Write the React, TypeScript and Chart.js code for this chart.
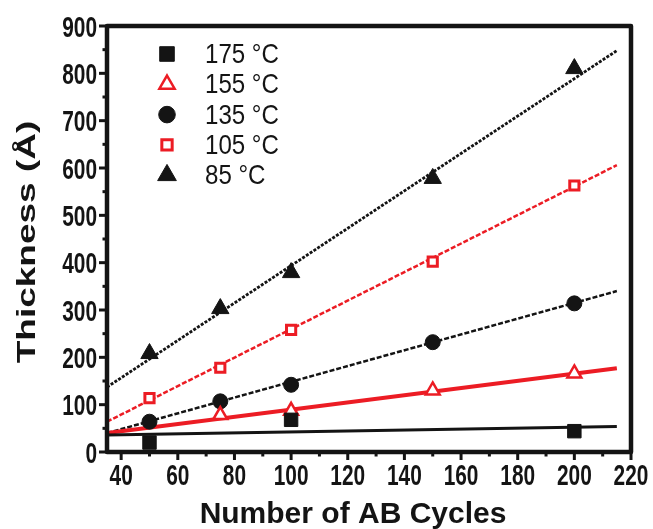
import React, { useEffect, useRef } from 'react';
import { Chart, registerables } from 'chart.js';
import { drawPoint } from 'chart.js/helpers';

Chart.register(...registerables);

// ---- data ----
const cycles = [50, 75, 100, 150, 200];
const cycles155 = [75, 100, 150, 200];
const cycles175 = [50, 100, 200];
const thick175 = [20, 68, 44];
const thick155 = [78, 87, 130, 166];
const thick135 = [64, 107, 142, 232, 314];
const thick105 = [114, 178, 258, 402, 563];
const thick85 = [208, 303, 379, 578, 810];

const fitX = [35, 215];
const fit175 = [36, 54];
const fit155 = [40, 177];
const fit135 = [40, 340];
const fit105 = [64, 606];
const fit85 = [137, 848];

const seriesLabels = ['175 °C', '155 °C', '135 °C', '105 °C', '85 °C'];
const xTicks = [40, 60, 80, 100, 120, 140, 160, 180, 200, 220];
const xMinorTicks = [50, 70, 90, 110, 130, 150, 170, 190, 210];
const yTicks = [0, 100, 200, 300, 400, 500, 600, 700, 800, 900];
const yMinorTicks = [50, 150, 250, 350, 450, 550, 650, 750, 850];

const xTitle = 'Number of AB Cycles';
const yTitle = 'Thickness (Å)';

const RED = '#ec1c24';
const BLACK = '#141414';
const SANS = "'Liberation Sans', Arial, sans-serif";

const pts = (xs: number[], ys: number[]) => xs.map((x, i) => ({ x, y: ys[i] }));

// condensed text helper (the original uses a narrow face)
function condensedText(ctx: any, text: string, x: number, y: number, sx: number, align: string) {
  ctx.save();
  ctx.translate(x, y);
  ctx.scale(sx, 1);
  ctx.textAlign = align;
  ctx.fillText(text, 0, 0);
  ctx.restore();
}

const framePlugin = {
  id: 'frameTicks',
  afterDatasetsDraw(chart: any) {
    const { ctx, chartArea } = chart;
    const { left, right, top, bottom } = chartArea;
    const xs = chart.scales.x;
    const ys = chart.scales.y;
    ctx.save();
    ctx.strokeStyle = BLACK;
    ctx.lineCap = 'butt';
    ctx.lineWidth = 3;
    xTicks.forEach((v) => {
      const px = xs.getPixelForValue(v);
      ctx.beginPath(); ctx.moveTo(px, bottom); ctx.lineTo(px, bottom + 8); ctx.stroke();
    });
    xMinorTicks.forEach((v) => {
      const px = xs.getPixelForValue(v);
      ctx.beginPath(); ctx.moveTo(px, bottom); ctx.lineTo(px, bottom + 4.5); ctx.stroke();
    });
    yTicks.forEach((v) => {
      const py = ys.getPixelForValue(v);
      ctx.beginPath(); ctx.moveTo(left, py); ctx.lineTo(left - 8, py); ctx.stroke();
    });
    yMinorTicks.forEach((v) => {
      const py = ys.getPixelForValue(v);
      ctx.beginPath(); ctx.moveTo(left, py); ctx.lineTo(left - 4.5, py); ctx.stroke();
    });
    ctx.lineWidth = 4.5;
    ctx.lineJoin = 'round';
    ctx.strokeRect(left, top, right - left, bottom - top);

    // tick labels from the scales' ticks, in a condensed bold face
    ctx.fillStyle = BLACK;
    ctx.font = `bold 29px ${SANS}`;
    ctx.textBaseline = 'alphabetic';
    xs.ticks.forEach((t: any) => {
      const px = xs.getPixelForValue(t.value);
      condensedText(ctx, String(t.value), px, bottom + 33, 0.72, 'center');
    });
    ys.ticks.forEach((t: any) => {
      const py = ys.getPixelForValue(t.value);
      condensedText(ctx, String(t.value), left - 10, py + 10.5, 0.72, 'right');
    });

    // x axis title
    ctx.font = `bold 30px ${SANS}`;
    ctx.textAlign = 'center';
    ctx.textBaseline = 'alphabetic';
    ctx.fillText(xTitle, (left + right) / 2 - 16, bottom + 71);

    // y axis title, condensed across its glyph height
    ctx.save();
    ctx.font = `bold 37px ${SANS}`;
    ctx.textAlign = 'center';
    ctx.textBaseline = 'middle';
    ctx.translate(28, (top + bottom) / 2 + 3);
    ctx.rotate(-Math.PI / 2);
    ctx.scale(1, 0.72);
    ctx.fillText(yTitle, 0, 0);
    ctx.restore();
    ctx.restore();
  },
};

const legendPlugin = {
  id: 'insetLegend',
  afterDraw(chart: any) {
    const { ctx, chartArea } = chart;
    const markers = chart.data.datasets.filter((d: any) => d.label);
    markers.forEach((ds: any, i: number) => {
      const y = chartArea.top + 28 + i * 30.3;
      ctx.save();
      ctx.fillStyle = ds.pointBackgroundColor;
      ctx.strokeStyle = ds.pointBorderColor;
      ctx.lineWidth = ds.pointBorderWidth;
      drawPoint(
        ctx,
        { pointStyle: ds.pointStyle, radius: ds.pointRadius + 0.8, rotation: 0, borderWidth: ds.pointBorderWidth } as any,
        chartArea.left + 60,
        y
      );
      ctx.fillStyle = BLACK;
      ctx.font = `28px ${SANS}`;
      ctx.textBaseline = 'alphabetic';
      condensedText(ctx, ds.label, chartArea.left + 98, y + 9, 0.86, 'left');
      ctx.restore();
    });
  },
};

export default function App() {
  const ref = useRef<HTMLCanvasElement | null>(null);

  useEffect(() => {
    document.body.style.margin = '0';
    const canvas = ref.current;
    if (!canvas) return;

    const fitLine = (ys: number[], color: string, width: number, dash: number[]) => ({
      label: '',
      data: pts(fitX, ys),
      showLine: true,
      borderColor: color,
      borderWidth: width,
      borderDash: dash,
      pointRadius: 0,
      pointHoverRadius: 0,
      fill: false,
      order: 10,
    });

    const marker = (
      label: string,
      xs: number[],
      ys: number[],
      style: string,
      radius: number,
      bg: string,
      border: string,
      bw: number
    ) => ({
      label,
      data: pts(xs, ys),
      showLine: false,
      pointStyle: style,
      pointRadius: radius,
      pointHoverRadius: radius,
      pointBackgroundColor: bg,
      pointBorderColor: border,
      pointBorderWidth: bw,
      backgroundColor: bg,
      borderColor: border,
      order: 1,
    });

    const chart = new Chart(canvas, {
      type: 'scatter',
      data: {
        datasets: [
          fitLine(fit175, BLACK, 3, []),
          fitLine(fit155, RED, 4, []),
          fitLine(fit135, BLACK, 2.5, [5, 2]),
          fitLine(fit105, RED, 2.5, [5, 2]),
          fitLine(fit85, BLACK, 2.8, [3, 1.5]),
          marker(seriesLabels[0], cycles175, thick175, 'rect', 9.5, BLACK, BLACK, 1),
          marker(seriesLabels[1], cycles155, thick155, 'triangle', 8, '#ffffff', RED, 2.5),
          marker(seriesLabels[2], cycles, thick135, 'circle', 7.5, BLACK, BLACK, 1),
          marker(seriesLabels[3], cycles, thick105, 'rect', 6.5, '#ffffff', RED, 3),
          marker(seriesLabels[4], cycles, thick85, 'triangle', 10, BLACK, BLACK, 1),
        ] as any,
      },
      options: {
        responsive: false,
        animation: false,
        devicePixelRatio: 1,
        layout: { padding: { top: 26, right: 22, left: 0, bottom: 0 } },
        plugins: {
          legend: { display: false },
          tooltip: { enabled: false },
        },
        scales: {
          x: {
            type: 'linear',
            min: 35,
            max: 220,
            afterBuildTicks: (scale: any) => {
              scale.ticks = xTicks.map((v) => ({ value: v, label: String(v) }));
            },
            afterFit: (scale: any) => {
              scale.height = 77;
            },
            grid: { display: false, drawTicks: false, tickLength: 0 },
            border: { display: false },
            ticks: { display: false },
            title: { display: false, text: xTitle },
          },
          y: {
            type: 'linear',
            min: 0,
            max: 900,
            afterBuildTicks: (scale: any) => {
              scale.ticks = yTicks.map((v) => ({ value: v, label: String(v) }));
            },
            afterFit: (scale: any) => {
              scale.width = 107;
            },
            grid: { display: false, drawTicks: false, tickLength: 0 },
            border: { display: false },
            ticks: { display: false },
            title: { display: false, text: yTitle },
          },
        },
      },
      plugins: [framePlugin, legendPlugin],
    } as any);

    return () => chart.destroy();
  }, []);

  return (
    <div style={{ width: 653, height: 529, background: '#ffffff' }}>
      <canvas ref={ref} width={653} height={529} />
    </div>
  );
}
